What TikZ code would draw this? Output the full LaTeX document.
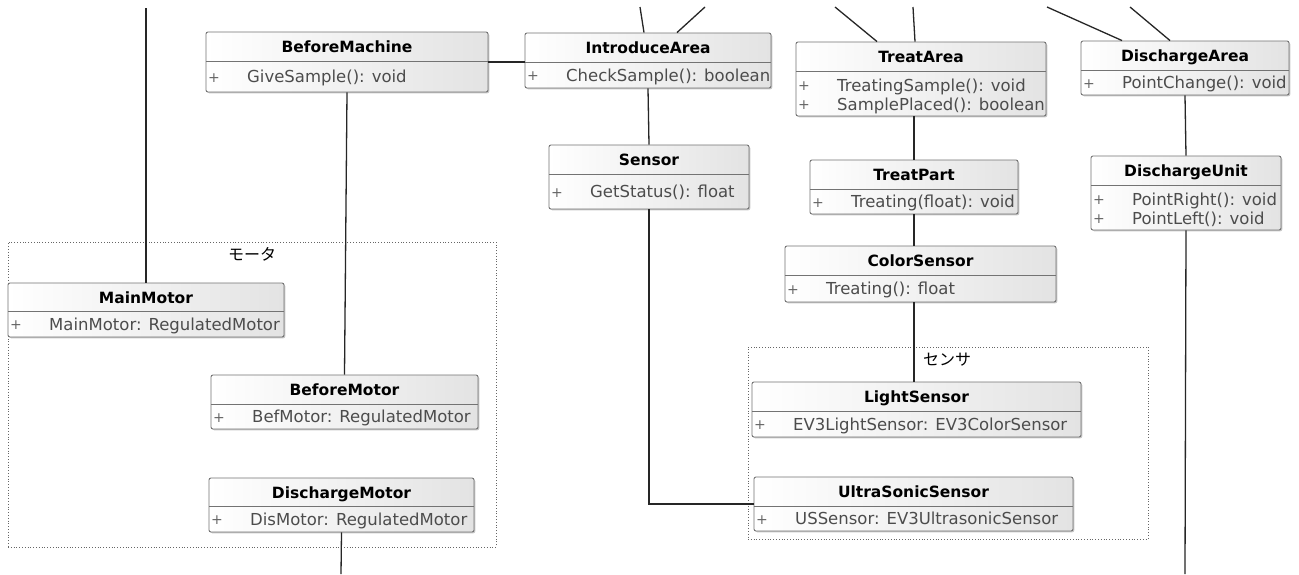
\documentclass[tikz,border=0pt]{standalone}
\usepackage{fontspec}
\setmainfont{DejaVu Sans}
\newfontfamily\jpfont{Noto Sans CJK JP}
\usetikzlibrary{fit,shadows}
\tikzset{
  clsbox/.style={draw=black!55, line width=0.9pt, rounded corners=2pt,
    left color=white, right color=black!11, inner sep=0pt,
    drop shadow={shadow xshift=1.3pt, shadow yshift=-1.3pt, opacity=0.22, fill=black}},
  divline/.style={draw=black!55, line width=0.9pt},
  ctitle/.style={font=\bfseries\fontsize{15.5}{18}\selectfont, text=black,
    inner sep=0pt, text height=12pt, text depth=0pt},
  cmember/.style={font=\fontsize{16.5}{19}\selectfont, text=black!70,
    inner sep=0pt, anchor=west, text height=12.5pt, text depth=0pt},
  cplus/.style={font=\fontsize{14}{16}\selectfont, text=black!60,
    inner sep=0pt, text height=11pt, text depth=0pt},
  pkg/.style={draw=black!60, dotted, line width=0.8pt, inner sep=0pt},
  pkglabel/.style={font=\jpfont\fontsize{16}{19}\selectfont, text=black, inner sep=0pt},
  conn/.style={draw=black!85, line width=1.3pt},
}
% #1 name, #2 x1, #3 y1, #4 x2, #5 y2, #6 y of divider
\newcommand\umlbox[6]{%
  \node[clsbox, fit={(#2,#3) (#4,#5)}] (#1) {};
  \draw[divline] (#2,#6) -- (#4,#6);
  \node[ctitle] (#1-title) at ({(#2+#4)/2},{(#3+#6)/2}) {#1};
}
% #1 box name, #2 index, #3 x1, #4 y, #5 text
\newcommand\umlmember[5]{%
  \node[cplus] (#1-p#2) at (#3+8,#4) {+};
  \node[cmember] (#1-m#2) at (#3+41,#4) {#5};
}
\begin{document}
\begin{tikzpicture}[x=1pt,y=-1pt]
\useasboundingbox[fill=white] (0,0) rectangle (1299,574);

% packages
\node[pkg, fit={(8,242) (496,547)}] (motors) {};
\node[pkglabel] (motors-label) at (252,254) {モータ};
\node[pkg, fit={(748,347) (1148,539)}] (sensors) {};
\node[pkglabel] (sensors-label) at (947,360) {センサ};

% classes
\umlbox{BeforeMachine}{206}{32}{488}{92}{61}
\umlmember{BeforeMachine}{1}{206}{76.5}{GiveSample(): void}
\umlbox{IntroduceArea}{525}{33}{771}{88}{62}
\umlmember{IntroduceArea}{1}{525}{75}{CheckSample(): boolean}
\umlbox{Sensor}{549}{145}{749}{209}{174}
\umlmember{Sensor}{1}{549}{191.5}{GetStatus(): float}
\umlbox{TreatArea}{796}{42}{1046}{116}{71}
\umlmember{TreatArea}{1}{796}{85}{TreatingSample(): void}
\umlmember{TreatArea}{2}{796}{104}{SamplePlaced(): boolean}
\umlbox{DischargeArea}{1081}{41}{1289}{95}{70}
\umlmember{DischargeArea}{1}{1081}{82.5}{PointChange(): void}
\umlbox{TreatPart}{810}{160}{1018}{214}{189}
\umlmember{TreatPart}{1}{810}{201.5}{Treating(float): void}
\umlbox{DischargeUnit}{1091}{156}{1281}{230}{185}
\umlmember{DischargeUnit}{1}{1091}{199}{PointRight(): void}
\umlmember{DischargeUnit}{2}{1091}{218}{PointLeft(): void}
\umlbox{ColorSensor}{785}{246}{1056}{302}{275}
\umlmember{ColorSensor}{1}{785}{288.5}{Treating(): float}
\umlbox{MainMotor}{8}{283}{284}{337}{311}
\umlmember{MainMotor}{1}{8}{324}{MainMotor: RegulatedMotor}
\umlbox{BeforeMotor}{211}{375}{478}{429}{404}
\umlmember{BeforeMotor}{1}{211}{416.5}{BefMotor: RegulatedMotor}
\umlbox{DischargeMotor}{209}{478}{474}{532}{506}
\umlmember{DischargeMotor}{1}{209}{519}{DisMotor: RegulatedMotor}
\umlbox{LightSensor}{752}{382}{1081}{437}{411}
\umlmember{LightSensor}{1}{752}{424}{EV3LightSensor: EV3ColorSensor}
\umlbox{UltraSonicSensor}{754}{477}{1073}{531}{506}
\umlmember{UltraSonicSensor}{1}{754}{518.5}{USSensor: EV3UltrasonicSensor}

% free ends
\coordinate (top1) at (146,8);
\coordinate (top2) at (640,7);
\coordinate (top3) at (705,7);
\coordinate (top4) at (835,7);
\coordinate (top5) at (913,7);
\coordinate (top6) at (1047,7);
\coordinate (top7) at (1130,7);
\coordinate (bot1) at (341,574);
\coordinate (bot2) at (1185,574);

% connectors
\draw[conn] (top1) -- (MainMotor.north);
\draw[conn] (top2) -- ([xshift=-4pt]IntroduceArea.north);
\draw[conn] (top3) -- ([xshift=29pt]IntroduceArea.north);
\draw[conn] (top4) -- ([xshift=-44pt]TreatArea.north);
\draw[conn] (top5) -- ([xshift=-6pt]TreatArea.north);
\draw[conn] (top6) -- ([xshift=-63pt]DischargeArea.north);
\draw[conn] (top7) -- ([xshift=-15pt]DischargeArea.north);
\draw[conn] (BeforeMachine.east) -- (BeforeMachine.east -| IntroduceArea.west);
\draw[conn] (BeforeMachine.south) -- (BeforeMotor.north);
\draw[conn] (IntroduceArea.south) -- (Sensor.north);
\draw[conn] (Sensor.south) |- (UltraSonicSensor.west);
\draw[conn] (TreatPart.north |- TreatArea.south) -- (TreatPart.north);
\draw[conn] (TreatPart.south) -- (TreatPart.south |- ColorSensor.north);
\draw[conn] (TreatPart.south |- ColorSensor.south) -- (TreatPart.south |- LightSensor.north);
\draw[conn] (DischargeArea.south) -- (DischargeUnit.north);
\draw[conn] (DischargeUnit.south) -- (bot2);
\draw[conn] (DischargeMotor.south) -- (bot1);
\end{tikzpicture}
\end{document}
